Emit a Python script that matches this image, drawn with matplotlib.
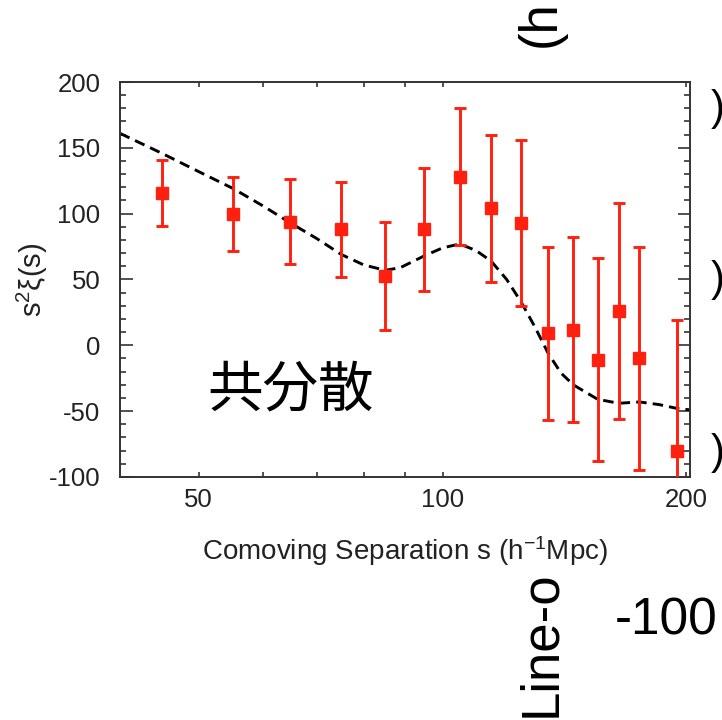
import matplotlib
matplotlib.use("Agg")
import matplotlib.pyplot as plt
from matplotlib.ticker import FixedLocator, NullFormatter, FixedFormatter

plt.rcParams['font.family'] = ['Liberation Sans', 'Noto Sans CJK JP', 'DejaVu Sans']
plt.rcParams['mathtext.fontset'] = 'custom'
plt.rcParams['mathtext.rm'] = 'Liberation Sans'
plt.rcParams['mathtext.it'] = 'Liberation Sans:italic'
plt.rcParams['axes.unicode_minus'] = False

# data points (separation, s^2 xi, error)
sep = [45.1, 55.2, 64.9, 75.0, 85.0, 95.0, 105.0, 114.8, 125.1, 135.0, 144.9, 155.4, 165.1, 174.9, 194.4]
xi = [116, 100, 94, 88, 53, 88, 128, 104, 93, 9, 12, -11, 26, -10, -80]
err = [25, 28, 32, 36, 41, 47, 52, 56, 63, 66, 70, 77, 82, 85, 99]

# model curve
model_s = [40, 45, 50, 55.2, 60, 64.9, 70, 75, 80, 85, 88.7, 95, 100, 105, 110, 114.8,
           120, 125, 130, 135, 140, 145, 155.4, 165, 175, 185, 195, 202]
model_xi = [161, 146, 132, 119, 106, 93, 81, 69, 61, 57, 59, 68, 74, 77, 72, 64,
            50, 33, 14, -6, -21, -30, -41, -44, -43, -45, -48, -49]

xticks_major = [50, 100, 200]
xtick_labels = ['50', '100', '200']
xticks_minor = [60, 70, 80, 90]
yticks = [-100, -50, 0, 50, 100, 150, 200]

W, H = 722, 720
fig = plt.figure(figsize=(W / 100, H / 100), dpi=100)
ax = fig.add_axes([120 / W, 1 - 477 / H, 570 / W, 395 / H])

red = '#ff2010'
ax.plot(model_s, model_xi, color='black', lw=2.1, linestyle=(0, (3.6, 2.1)), zorder=2)
ax.errorbar(sep, xi, yerr=err, fmt='s', color=red, ms=9, elinewidth=2.1,
            capsize=4.5, capthick=2.1, zorder=3, clip_on=True)

ax.set_xscale('log')
ax.set_xlim(40, 202)
ax.set_ylim(-100, 200)
ax.xaxis.set_major_locator(FixedLocator(xticks_major))
ax.xaxis.set_major_formatter(FixedFormatter(xtick_labels))
ax.xaxis.set_minor_locator(FixedLocator(xticks_minor))
ax.xaxis.set_minor_formatter(NullFormatter())
ax.yaxis.set_major_locator(FixedLocator(yticks))
ax.yaxis.set_minor_locator(FixedLocator(list(range(-100, 201, 10))))

ax.tick_params(axis='both', which='both', direction='in', top=True, right=True,
               color='#333333', width=1.2, labelcolor='#222222')
ax.tick_params(axis='y', which='major', length=9, labelsize=18.5, pad=14)
ax.tick_params(axis='y', which='minor', length=4.5)
ax.tick_params(axis='x', which='both', length=3.5, labelsize=18.5, pad=8)
for sp in ax.spines.values():
    sp.set_color('#333333')
    sp.set_linewidth(1.4)

ax.set_xlabel('Comoving Separation s (h$^{-1}$Mpc)', fontsize=20, color='#222222', labelpad=16)
ax.set_ylabel('s$^2$ξ(s)', fontsize=21, color='#222222')
ax.yaxis.set_label_coords(-0.123, 0.5)

ax.text(0.30, 0.218, '共分散', transform=ax.transAxes, fontsize=40,
        ha='center', va='center', family=['Noto Sans CJK JP', 'DejaVu Sans'], color='black')

# fragments of neighbouring panels
def fx(px):
    return px / W

def fy(py):
    return 1 - py / H

fig.text(fx(555), fy(717), 'Line-o', rotation=90, rotation_mode='anchor',
         ha='left', va='baseline', fontsize=38, color='black')
fig.text(fx(555), fy(47), '(h', rotation=90, rotation_mode='anchor',
         ha='left', va='baseline', fontsize=38, color='black')
fig.text(fx(615), fy(621), '-100', ha='left', va='center', fontsize=37, color='black')
for yc in [109, 280, 453]:
    fig.text(fx(711), fy(yc), ')', ha='left', va='center', fontsize=30, color='black')

fig.savefig('out.png', dpi=100)
